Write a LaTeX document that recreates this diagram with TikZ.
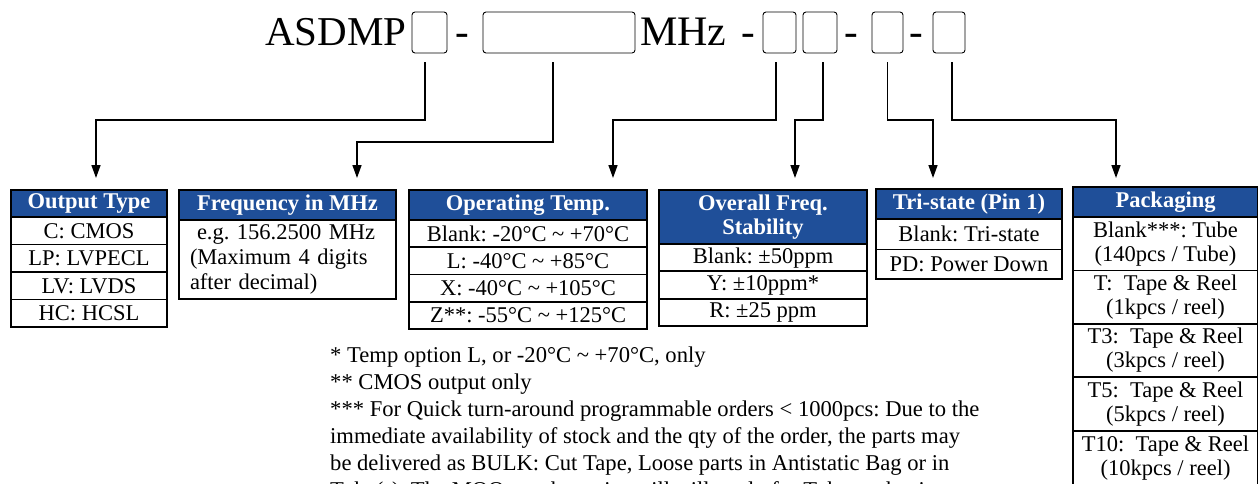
\documentclass[tikz,border=0pt]{standalone}
\usepackage{fontspec}
\setmainfont{Liberation Serif}
\usetikzlibrary{arrows.meta,positioning}
\definecolor{hdrblue}{rgb}{0.12,0.31,0.60}
\frenchspacing

\tikzset{
  slot/.style={draw, rounded corners=3pt, line width=0.9pt, minimum height=41pt, inner sep=0pt},
  hdr/.style={draw, fill=hdrblue, text=white, line width=1.8pt, align=center, outer sep=0pt,
    font=\bfseries\fontsize{22.5}{24}\selectfont, inner sep=0pt, anchor=north west},
  cell/.style={draw, line width=1.8pt, align=center, outer sep=0pt,
    font=\fontsize{22.5}{24}\selectfont, inner sep=0pt, anchor=north west},
  conn/.style={line width=1.5pt, -{Triangle[length=13pt,width=9pt]}},
  note/.style={anchor=base west, font=\fontsize{22.6}{27}\selectfont, inner sep=0pt},
}

\begin{document}
\begin{tikzpicture}[x=1pt,y=-1pt]
\useasboundingbox (0,0) rectangle (1258,483);

%% part number
\node[anchor=base west, inner sep=0pt, font=\fontsize{41}{41}\selectfont] (brand) at (265,45) {ASDMP};
\node[slot, minimum width=35pt] (slot1) at (429.5,32.5) {};
\node[anchor=base, inner sep=0pt, font=\fontsize{41}{41}\selectfont] (dash1) at (462,45) {-};
\node[slot, minimum width=152pt] (slot2) at (559,32.5) {};
\node[anchor=base west, inner sep=0pt, font=\fontsize{42}{42}\selectfont] (mhz) at (640,45) {MHz};
\node[anchor=base, inner sep=0pt, font=\fontsize{41}{41}\selectfont] (dash2) at (748,45) {-};
\node[slot, minimum width=33pt] (slot3) at (779.5,32.5) {};
\node[slot, minimum width=34pt] (slot4) at (820,32.5) {};
\node[anchor=base, inner sep=0pt, font=\fontsize{41}{41}\selectfont] (dash3) at (851,45) {-};
\node[slot, minimum width=31pt] (slot5) at (887.5,32.5) {};
\node[anchor=base, inner sep=0pt, font=\fontsize{41}{41}\selectfont] (dash4) at (916,45) {-};
\node[slot, minimum width=32pt] (slot6) at (949,32.5) {};

%% tables
% output type
\node[hdr, minimum width=156pt, minimum height=27pt] (otype) at (11,190) {Output Type};
\node[cell, minimum width=156pt, minimum height=27.5pt, below=0pt of otype] (otypeA) {C: CMOS};
\node[cell, minimum width=156pt, minimum height=27.5pt, below=0pt of otypeA] (otypeB) {LP: LVPECL};
\node[cell, minimum width=156pt, minimum height=27.5pt, below=0pt of otypeB] (otypeC) {LV: LVDS};
\node[cell, minimum width=156pt, minimum height=27.5pt, below=0pt of otypeC] (otypeD) {HC: HCSL};
% frequency
\node[hdr, minimum width=217pt, minimum height=30pt] (freq) at (179,190) {Frequency in MHz};
\node[cell, minimum width=217pt, minimum height=79pt, text width=195pt, align=left,
  font=\fontsize{22.5}{25}\selectfont, below=0pt of freq] (freqA)
  {\hspace*{7pt}e.g.\ 156.2500 MHz\\(Maximum 4 digits\\after decimal)};
% operating temperature
\node[hdr, minimum width=238pt, minimum height=30pt] (temp) at (409,190) {Operating Temp.};
\node[cell, minimum width=238pt, minimum height=27.25pt, below=0pt of temp] (tempA) {Blank: -20°C \char`~\ +70°C};
\node[cell, minimum width=238pt, minimum height=27.25pt, below=0pt of tempA] (tempB) {L: -40°C \char`~\ +85°C};
\node[cell, minimum width=238pt, minimum height=27.25pt, below=0pt of tempB] (tempC) {X: -40°C \char`~\ +105°C};
\node[cell, minimum width=238pt, minimum height=27.25pt, below=0pt of tempC] (tempD) {Z**: -55°C \char`~\ +125°C};
% stability
\node[hdr, minimum width=208pt, minimum height=54pt] (stab) at (659,190) {Overall Freq.\\Stability};
\node[cell, minimum width=208pt, minimum height=27.3pt, below=0pt of stab] (stabA) {Blank: ±50ppm};
\node[cell, minimum width=208pt, minimum height=27.3pt, below=0pt of stabA] (stabB) {Y: ±10ppm*};
\node[cell, minimum width=208pt, minimum height=27.3pt, below=0pt of stabB] (stabC) {R: ±25 ppm};
% tri-state
\node[hdr, minimum width=186pt, minimum height=30pt] (tri) at (876,189) {Tri-state (Pin 1)};
\node[cell, minimum width=186pt, minimum height=30.5pt, below=0pt of tri] (triA) {Blank: Tri-state};
\node[cell, minimum width=186pt, minimum height=29.5pt, below=0pt of triA] (triB) {PD: Power Down};
% packaging
\node[hdr, minimum width=185pt, minimum height=30pt] (pack) at (1073,187) {Packaging};
\node[cell, minimum width=185pt, minimum height=53.4pt, below=0pt of pack] (packA) {Blank***: Tube\\(140pcs / Tube)};
\node[cell, minimum width=185pt, minimum height=53.4pt, below=0pt of packA] (packB) {T:~ Tape \& Reel\\(1kpcs / reel)};
\node[cell, minimum width=185pt, minimum height=53.4pt, below=0pt of packB] (packC) {T3:~ Tape \& Reel\\(3kpcs / reel)};
\node[cell, minimum width=185pt, minimum height=53.4pt, below=0pt of packC] (packD) {T5:~ Tape \& Reel\\(5kpcs / reel)};
\node[cell, minimum width=185pt, minimum height=54pt, below=0pt of packD] (packE) {T10:~ Tape \& Reel\\(10kpcs / reel)};

%% connectors
\coordinate (tip1) at (96,178);
\coordinate (tip2) at (357,178);
\coordinate (tip3) at (613,178);
\coordinate (tip4) at (795,178);
\coordinate (tip5) at (933,178);
\coordinate (tip6) at (1116,178);
\draw[conn] ([xshift=-4.5pt,yshift=-9pt]slot1.south) |- ([yshift=58pt]tip1) -- (tip1);
\draw[conn] ([xshift=-6pt,yshift=-9pt]slot2.south) |- ([yshift=36pt]tip2) -- (tip2);
\draw[conn] ([xshift=-3.5pt,yshift=-9pt]slot3.south) |- ([yshift=58pt]tip3) -- (tip3);
\draw[conn] ([xshift=3pt,yshift=-9pt]slot4.south) |- ([yshift=58pt]tip4) -- (tip4);
\draw[conn] ([yshift=-9pt]slot5.south) |- ([yshift=58pt]tip5) -- (tip5);
\draw[conn] ([xshift=3pt,yshift=-9pt]slot6.south) |- ([yshift=58pt]tip6) -- (tip6);

%% footnotes
\node[note] (note1) at (330,362) {* Temp option L, or -20°C \char`~\ +70°C, only};
\node[note] (note2) at (330,389) {** CMOS output only};
\node[note] (note3) at (330,416) {*** For Quick turn-around programmable orders < 1000pcs: Due to the};
\node[note] (note4) at (330,443) {immediate availability of stock and the qty of the order, the parts may};
\node[note] (note5) at (330,470) {be delivered as BULK: Cut Tape, Loose parts in Antistatic Bag or in};
\node[note] (note6) at (330,497) {Tube(s). The MOQ per the series will still apply for Tube packaging};

\end{tikzpicture}
\end{document}
